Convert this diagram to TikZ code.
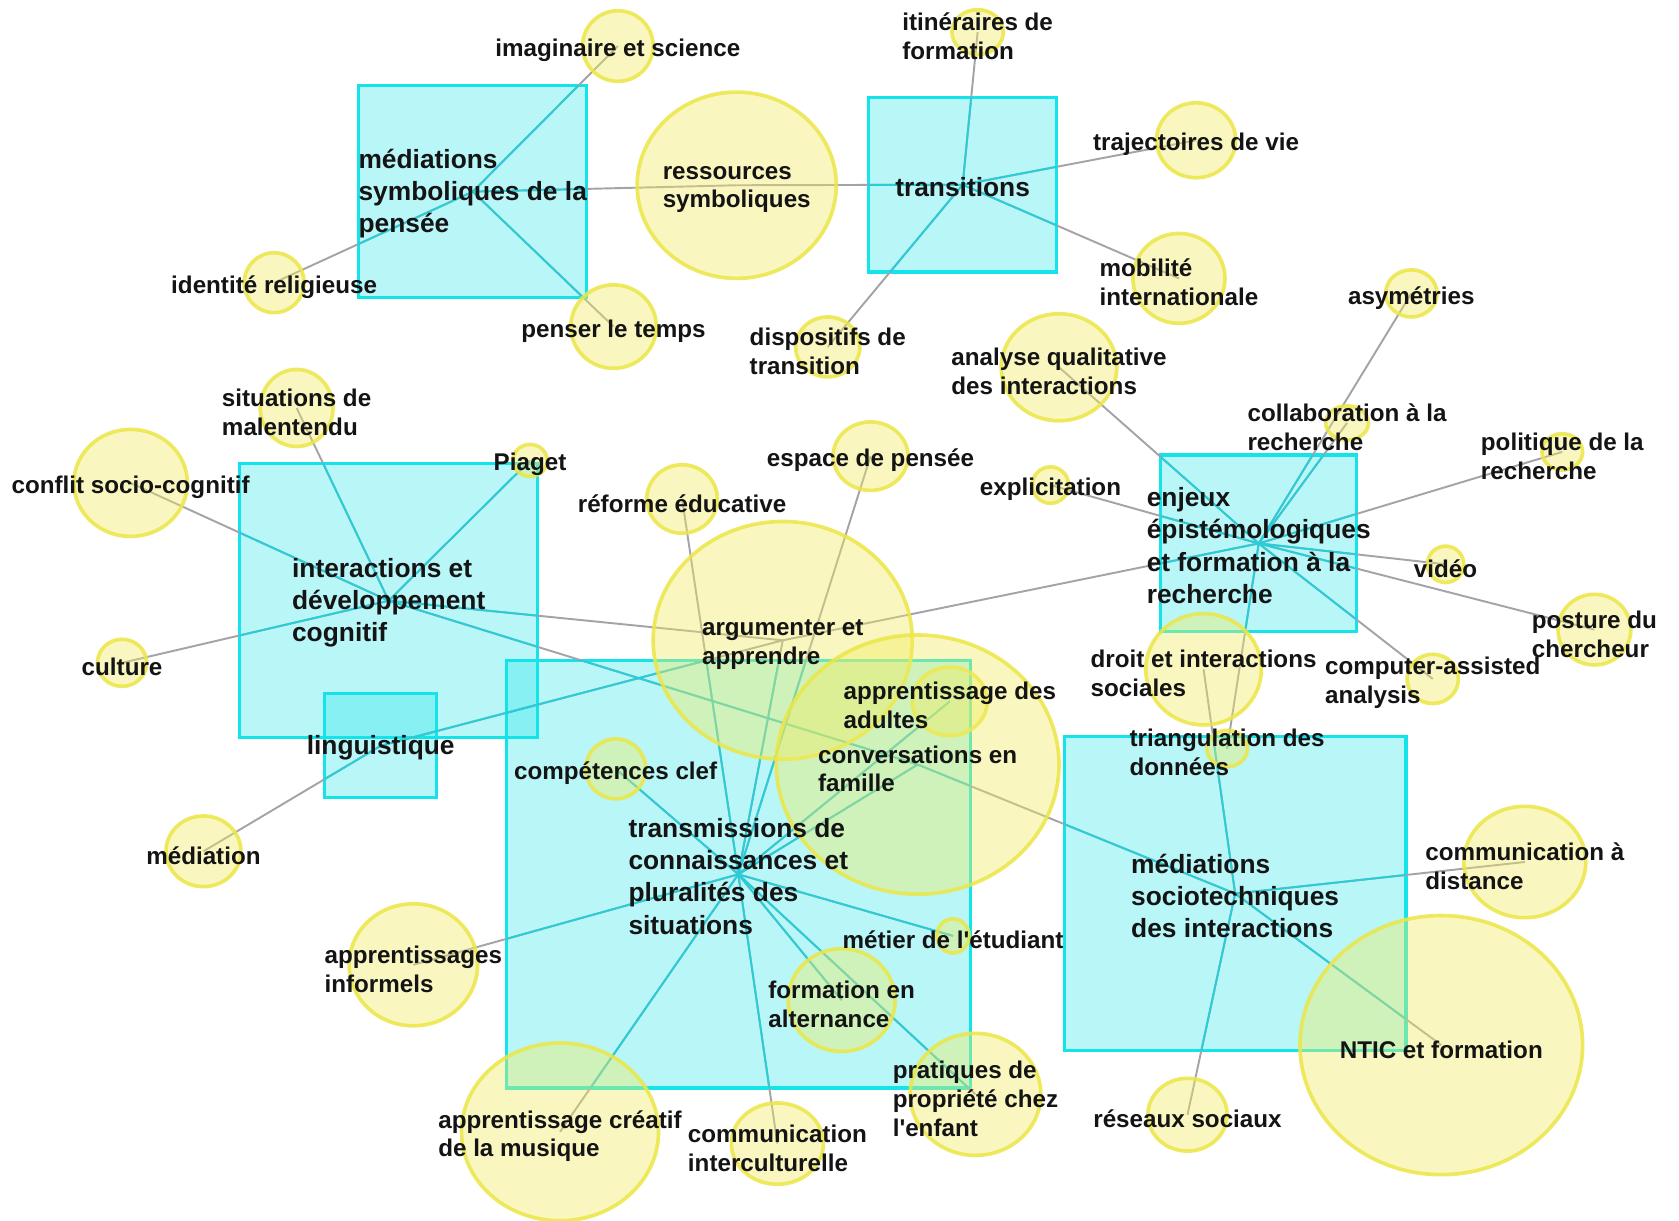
\documentclass[tikz,border=0pt]{standalone}
\usepackage{fontspec}
\setmainfont{Liberation Sans}
\usetikzlibrary{shapes.geometric}
\pgfdeclarelayer{bx}\pgfdeclarelayer{ed}\pgfdeclarelayer{ci}
\pgfsetlayers{bx,ed,ci,main}
\definecolor{boxc}{RGB}{20,228,234}
\definecolor{circf}{RGB}{242,236,95}
\definecolor{circd}{RGB}{236,230,70}
\definecolor{edg}{RGB}{165,162,170}
\definecolor{edc}{RGB}{40,205,215}
\definecolor{txt}{RGB}{20,20,20}
\newcommand\mkc[6]{\begin{pgfonlayer}{ci}\node[cnode,minimum width=#4pt,minimum height=#5pt] (#1) at (#2,#3) {};\end{pgfonlayer}\node[lbl] (#1t) at (#2,#3+4) {#6};}
\newcommand\mkb[6]{\begin{pgfonlayer}{bx}\node[boxn,minimum width=#4pt,minimum height=#5pt] (#1) at (#2,#3) {};\end{pgfonlayer}\node[blbl] (#1t) at (#2,#3+2) {#6};}
\def\edgelist{bMS/cIS,bMS/cIR,bMS/cPT,bMS/cRS,
bTR/cIF,bTR/cTV,bTR/cMI,bTR/cDT,bTR/cRS,
bID/cSM,bID/cCS,bID/cPI,bID/cCU,bID/cAA,bID/cCF,
bLI/cME,bLI/cAA,
bTC/cCC,bTC/cAI,bTC/cAM,bTC/cCI,bTC/cFA,bTC/cPP,bTC/cMT,bTC/cCF,bTC/cAD,bTC/cAA,bTC/cRE,bTC/cEP,
bEE/cAQ,bEE/cAS,bEE/cCR,bEE/cPR,bEE/cEX,bEE/cVI,bEE/cPC,bEE/cCA,bEE/cTD,bEE/cAA,
bMT/cCD,bMT/cNT,bMT/cRSo,bMT/cDI,bMT/cCF}
\begin{document}
\begin{tikzpicture}[x=0.5pt,y=-0.5pt,
 boxn/.style={rectangle,draw=boxc,line width=1.5pt,fill=boxc,fill opacity=0.3,inner sep=0,outer sep=0},
 cnode/.style={ellipse,draw=circd,line width=1.7pt,draw opacity=0.85,fill=circf,fill opacity=0.4,inner sep=0,outer sep=0},
 lbl/.style={align=left,inner sep=0,text=txt,font=\fontsize{11.3}{13.5}\selectfont\bfseries},
 blbl/.style={lbl,font=\fontsize{12.3}{15}\selectfont\bfseries},
 edgegray/.style={draw=edg,line width=0.9pt},
 edgecyan/.style={draw=edc,line width=0.9pt}]
\begin{pgfonlayer}{bx}
\fill[white] (0,0) rectangle (1568,1140);
\end{pgfonlayer}
\useasboundingbox (0,0) rectangle (1568,1140);
% boxes
\mkb{bMS}{441.5}{179}{106.5}{99}{médiations\\symboliques de la\\pensée}
\mkb{bTR}{899}{172.5}{88}{81.5}{transitions}
\mkb{bID}{363}{561}{139}{128}{interactions et\\développement\\cognitif}
\mkb{bLI}{355.5}{696.5}{52.5}{48.5}{linguistique}
\mkb{bTC}{689.5}{816.5}{216.5}{199.5}{transmissions de\\connaissances et\\pluralités des\\situations}
\mkb{bEE}{1175.5}{507.5}{91.5}{82.5}{enjeux\\épistémologiques\\et formation à la\\recherche}
\mkb{bMT}{1153.5}{834.5}{159.5}{146.5}{médiations\\sociotechniques\\des interactions}
% circles
\mkc{cIS}{577}{43}{33}{33}{imaginaire et science}
\mkc{cRS}{688}{173}{93}{87}{ressources\\symboliques}
\mkc{cIR}{256}{264}{28}{28}{identité religieuse}
\mkc{cPT}{573}{305}{40}{39}{penser le temps}
\mkc{cIF}{913}{30}{24}{21}{itinéraires de\\formation}
\mkc{cTV}{1117}{131}{37}{35}{trajectoires de vie}
\mkc{cMI}{1101}{260}{43}{42}{mobilité\\internationale}
\mkc{cDT}{773}{324}{30}{28}{dispositifs de\\transition}
\mkc{cAQ}{989}{343}{54}{50}{analyse qualitative\\des interactions}
\mkc{cAS}{1318}{274}{24}{22}{asymétries}
\mkc{cSM}{277}{381}{34}{36}{situations de\\malentendu}
\mkc{cCS}{122}{451}{53}{50}{conflit socio-cognitif}
\mkc{cPI}{495}{430}{16}{15}{Piaget}
\mkc{cRE}{637}{466}{33}{32}{réforme éducative}
\mkc{cEP}{813}{426}{35}{32}{espace de pensée}
\mkc{cEX}{981}{453}{17}{17}{explicitation}
\mkc{cCR}{1258}{395}{20}{16}{collaboration à la\\recherche}
\mkc{cPR}{1459}{422}{19}{17}{politique de la\\recherche}
\mkc{cVI}{1350}{527}{17}{17}{vidéo}
\mkc{cPC}{1489}{588}{34}{33}{posture du\\chercheur}
\mkc{cCA}{1338}{634}{24}{23}{computer-assisted\\analysis}
\mkc{cCU}{114}{619}{23}{22}{culture}
\mkc{cAA}{731}{598}{121}{111}{argumenter et\\apprendre}
\mkc{cAD}{887}{655}{35}{32}{apprentissage des\\adultes}
\mkc{cCF}{857}{714}{132}{121}{conversations en\\famille}
\mkc{cDI}{1124}{625}{54}{52}{droit et interactions\\sociales}
\mkc{cTD}{1146}{699}{19}{17}{triangulation des\\données}
\mkc{cCC}{575}{718}{28}{28}{compétences clef}
\mkc{cME}{190}{795}{35}{33}{médiation}
\mkc{cAI}{386}{901}{60}{57}{apprentissages\\informels}
\mkc{cCD}{1424}{805}{57}{52}{communication à\\distance}
\mkc{cMT}{890}{874}{15}{16}{métier de l\textquotesingle étudiant}
\mkc{cFA}{786}{934}{50}{48}{formation en\\alternance}
\mkc{cNT}{1346}{976}{132}{121}{NTIC et formation}
\mkc{cPP}{911}{1022}{61}{57}{pratiques de\\propriété chez\\l\textquotesingle enfant}
\mkc{cAM}{523}{1057}{92}{83}{apprentissage créatif\\de la musique}
\mkc{cCI}{726}{1068}{43}{38}{communication\\interculturelle}
\mkc{cRSo}{1109}{1041}{37}{34}{réseaux sociaux}
% connectors
\begin{pgfonlayer}{ed}
\foreach \s/\t in \edgelist {\draw[edgegray] (\s.center) -- (\t.center);}
\foreach \b in {bMS,bTR,bID,bLI,bTC,bEE,bMT}{
  \begin{scope}
  \clip (\b.south west) rectangle (\b.north east);
  \foreach \s/\t in \edgelist {\draw[edgecyan] (\s.center) -- (\t.center);}
  \end{scope}
}
\end{pgfonlayer}
\end{tikzpicture}
\end{document}
